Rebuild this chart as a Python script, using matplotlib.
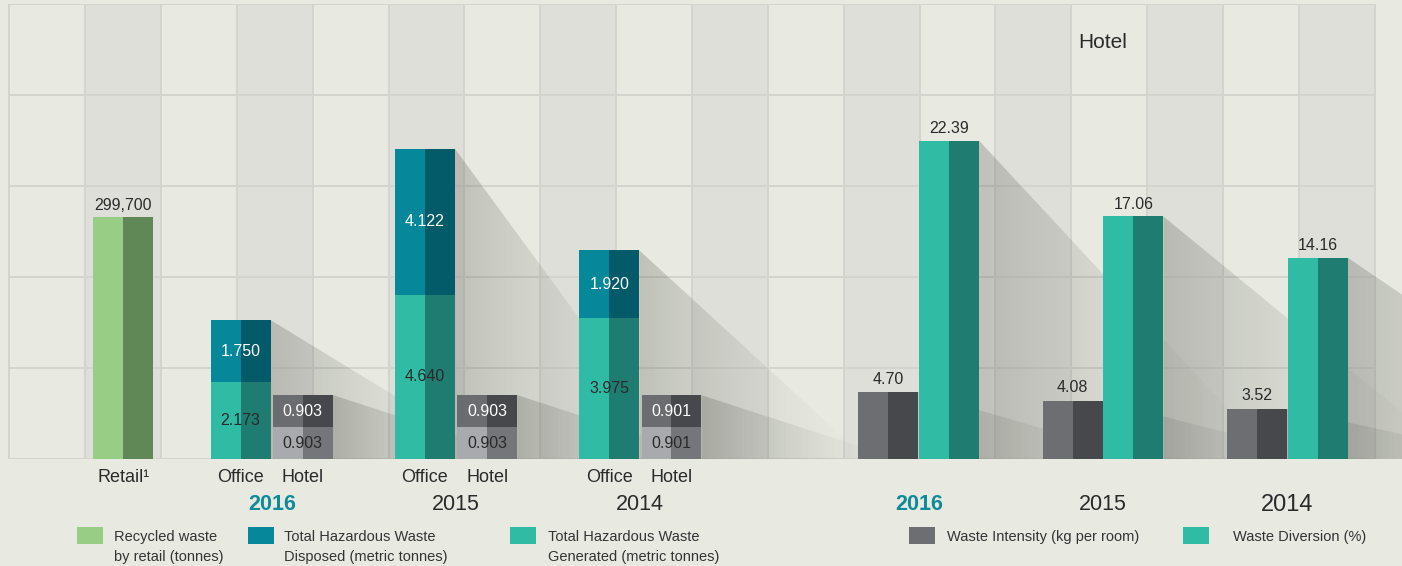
import matplotlib
matplotlib.use("Agg")
import matplotlib.pyplot as plt
import numpy as np
from matplotlib.patches import Polygon, Rectangle

plt.rcParams['font.family'] = ['Liberation Sans', 'DejaVu Sans']

# --- data ---
years = ["2016", "2015", "2014"]
retail_name = "Retail¹"
retail_recycled = 299700
office_generated = [2.173, 4.640, 3.975]
office_disposed = [1.750, 4.122, 1.920]
hotel_generated = [0.903, 0.903, 0.901]
hotel_disposed = [0.903, 0.903, 0.901]
waste_intensity = [4.70, 4.08, 3.52]
waste_diversion = [22.39, 17.06, 14.16]

legend_left = ["Recycled waste\nby retail (tonnes)",
               "Total Hazardous Waste\nDisposed (metric tonnes)",
               "Total Hazardous Waste\nGenerated (metric tonnes)"]
legend_right = ["Waste Intensity (kg per room)", "Waste Diversion (%)"]

# --- style ---
BG = "#E8EAE2"
COL_DARK = "#DEDFD8"
LINE = "#D3D4CE"
TXT = "#2A2A2A"
YEAR_HI = "#0F8A9A"
GREEN = ("#97CD84", "#5F8856")
BLUE = ("#06879A", "#035B6A")
TEAL = ("#30BBA5", "#1E7C70")
GREY_TOP = ("#6B6C70", "#47484C")
GREY_BOT = ("#A9AAAE", "#75767A")
GREY_INT = ("#6D6E71", "#47484C")

BAR_W = 0.79
GROUP_STEP = 2.43
retail_x = 1.5
left_groups = 3.46 + GROUP_STEP * np.arange(len(years))
right_groups = 11.99 + GROUP_STEP * np.arange(len(years))
office_x = left_groups - 0.41
hotel_x = left_groups + 0.41
int_x = right_groups - 0.40
div_x = right_groups + 0.40


def split_bar(ax, x, h, bottom, colors, w=BAR_W):
    ax.bar(x - w / 4, h, w / 2, bottom=bottom, color=colors[0], linewidth=0, zorder=5)
    ax.bar(x + w / 4, h, w / 2, bottom=bottom, color=colors[1], linewidth=0, zorder=5)


def shadow(ax, x_right, top, reach, alpha0=0.30):
    # long diagonal shadow fading to the right
    t = np.linspace(0, 1, 256)
    grad = np.zeros((2, 256, 4))
    grad[..., 0] = 0.38
    grad[..., 1] = 0.39
    grad[..., 2] = 0.36
    grad[..., 3] = alpha0 * (1 - t) ** 1.5
    im = ax.imshow(grad, extent=[x_right, x_right + reach, 0, top], aspect='auto',
                   interpolation='bilinear', zorder=2)
    tri = Polygon([[x_right, top], [x_right + reach, 0], [x_right, 0]], closed=True,
                  transform=ax.transData, facecolor='none', edgecolor='none')
    im.set_clip_path(tri)


fig = plt.figure(figsize=(14.02, 5.66), dpi=100, facecolor=BG)
ax = fig.add_axes([0, 107 / 566, 1, 455 / 566])
ax.set_axis_off()

# background grid: alternating columns
for k in range(1, 18, 2):
    ax.axvspan(k, k + 1, color=COL_DARK, lw=0, zorder=0)
ax.hlines(range(6), 0, 18, color=LINE, lw=1.4, zorder=1)
ax.vlines(range(19), 0, 5, color=LINE, lw=1.4, zorder=1)
ax.set_ylim(0, 5)

ax_r = ax.twinx()
ax_h = ax.twinx()
ax_w = ax.twinx()
for i, a in enumerate([ax_r, ax_h, ax_w]):
    a.set_axis_off()
    a.set_zorder(i + 1)

# retail
split_bar(ax_r, retail_x, retail_recycled, 0, GREEN, w=0.78)
ax_r.annotate(f"{retail_recycled:,}", (retail_x, retail_recycled), xytext=(0, 3),
              textcoords='offset points', ha='center', va='bottom', fontsize=11.5, color=TXT)

# hazardous waste: office and hotel
for i in range(len(years)):
    g, d = office_generated[i], office_disposed[i]
    shadow(ax_h, office_x[i] + BAR_W / 2, g + d, 3.0)
    hg, hd = hotel_generated[i], hotel_disposed[i]
    shadow(ax_h, hotel_x[i] + BAR_W / 2, hg + hd, 2.6)
for i in range(len(years)):
    g, d = office_generated[i], office_disposed[i]
    split_bar(ax_h, office_x[i], g, 0, TEAL)
    split_bar(ax_h, office_x[i], d, g, BLUE)
    ax_h.text(office_x[i], g / 2, f"{g:.3f}", ha='center', va='center', fontsize=11.5, color=TXT, zorder=6)
    ax_h.text(office_x[i], g + d / 2, f"{d:.3f}", ha='center', va='center', fontsize=11.5, color='white', zorder=6)
    hg, hd = hotel_generated[i], hotel_disposed[i]
    split_bar(ax_h, hotel_x[i], hg, 0, GREY_BOT)
    split_bar(ax_h, hotel_x[i], hd, hg, GREY_TOP)
    ax_h.text(hotel_x[i], hg / 2, f"{hg:.3f}", ha='center', va='center', fontsize=11.5, color=TXT, zorder=6)
    ax_h.text(hotel_x[i], hg + hd / 2, f"{hd:.3f}", ha='center', va='center', fontsize=11.5, color='white', zorder=6)

# hotel intensity / diversion
for i in range(len(years)):
    shadow(ax_w, int_x[i] + BAR_W / 2, waste_intensity[i], 3.0)
    shadow(ax_w, div_x[i] + BAR_W / 2, waste_diversion[i], 3.9)
for i in range(len(years)):
    split_bar(ax_w, int_x[i], waste_intensity[i], 0, GREY_INT)
    split_bar(ax_w, div_x[i], waste_diversion[i], 0, TEAL)
    ax_w.annotate(f"{waste_intensity[i]:.2f}", (int_x[i], waste_intensity[i]), xytext=(0, 4),
                  textcoords='offset points', ha='center', va='bottom', fontsize=11.5, color=TXT)
    ax_w.annotate(f"{waste_diversion[i]:.2f}", (div_x[i], waste_diversion[i]), xytext=(0, 3),
                  textcoords='offset points', ha='center', va='bottom', fontsize=11.5, color=TXT)

ax_r.set_ylim(0, 563500)
ax_h.set_ylim(0, 12.85)
ax_w.set_ylim(0, 32.0)
ax.set_xlim(-9.3 / 75.85, (1402 - 9.3) / 75.85)

# category and year labels
tr = ax.get_xaxis_transform()
cat_y = -18 / 455
year_y = -46 / 455
ax.text(retail_x, cat_y, retail_name, transform=tr, ha='center', va='center', fontsize=13, color=TXT)
for i, yr in enumerate(years):
    ax.text(office_x[i], cat_y, "Office", transform=tr, ha='center', va='center', fontsize=13, color=TXT)
    ax.text(hotel_x[i], cat_y, "Hotel", transform=tr, ha='center', va='center', fontsize=13, color=TXT)
    hi = i == 0
    ax.text(left_groups[i], year_y, yr, transform=tr, ha='center', va='center', fontsize=15.5,
            color=YEAR_HI if hi else TXT, fontweight='bold' if hi else 'normal')
    ax.text(right_groups[i], year_y, yr, transform=tr, ha='center', va='center',
            fontsize=17 if i == 2 else 15.5,
            color=YEAR_HI if hi else TXT, fontweight='bold' if hi else 'normal')
ax.text(right_groups[1], 416 / 455, "Hotel", transform=tr, ha='center', va='center', fontsize=15, color=TXT)

# legends
W, H = 1402, 566
def legend_item(x_box, x_text, color, label):
    fig.add_artist(Rectangle((x_box / W, 1 - 544 / H), 26 / W, 17 / H, transform=fig.transFigure,
                             facecolor=color, edgecolor='none'))
    fig.text(x_text / W, 1 - 530 / H, label, ha='left', va='top', fontsize=10.5,
             color="#333333", linespacing=1.55)

for xb, xt, c, lab in zip([77, 248, 510], [114, 284, 548], [GREEN[0], BLUE[0], TEAL[0]], legend_left):
    legend_item(xb, xt, c, lab)
for xb, xt, c, lab in zip([909, 1183], [947, 1233], [GREY_INT[0], TEAL[0]], legend_right):
    legend_item(xb, xt, c, lab)

fig.savefig("out.png", dpi=100, facecolor=BG)
